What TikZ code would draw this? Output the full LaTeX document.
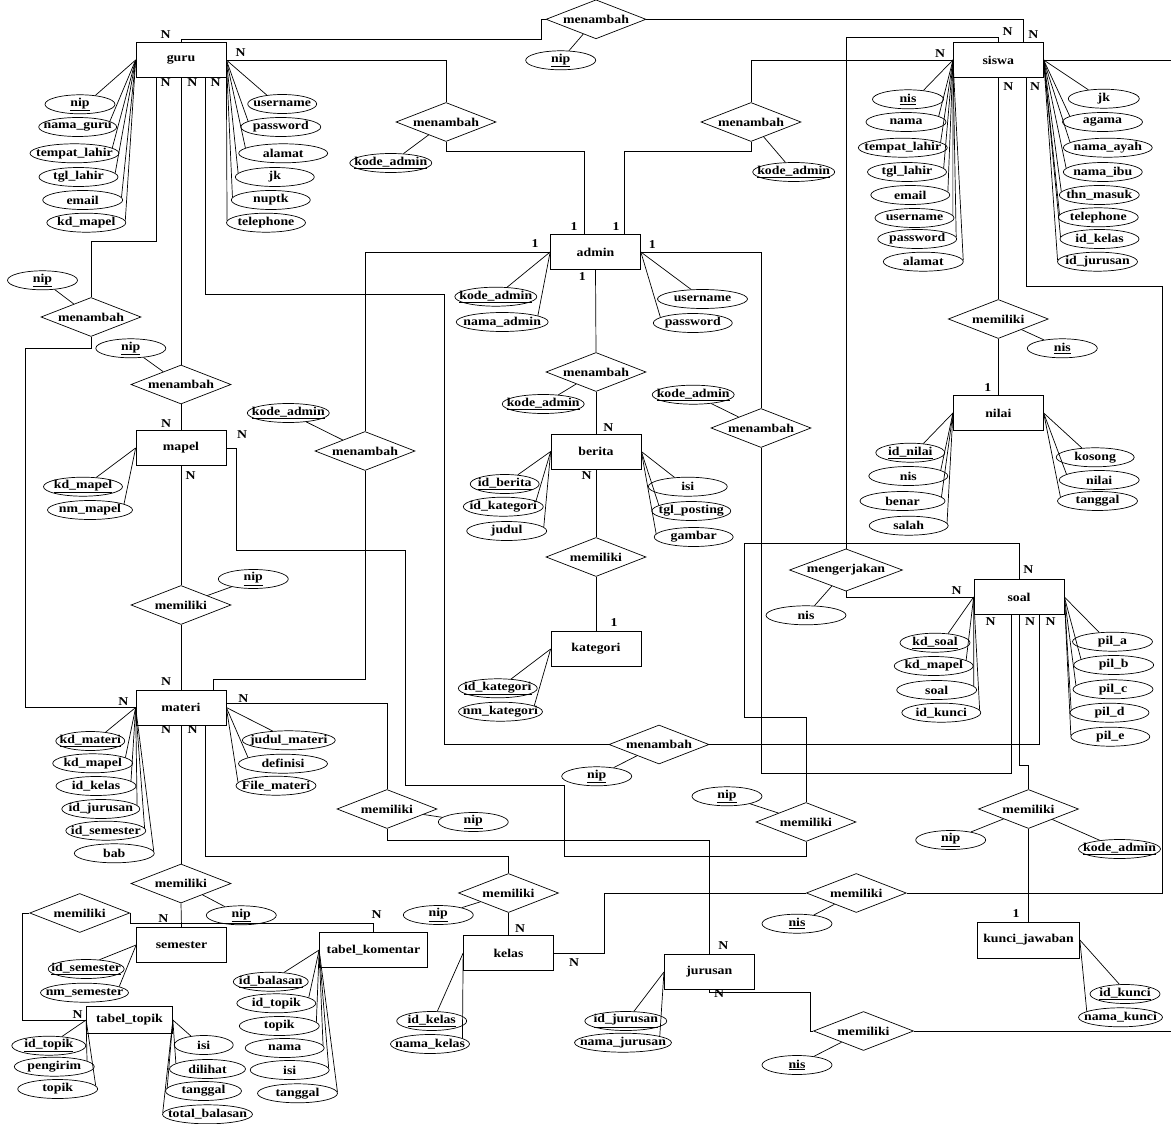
\documentclass[tikz,border=0pt]{standalone}
\usepackage{fontspec}
\setmainfont{Liberation Serif}[FakeStretch=1.15]
\usetikzlibrary{shapes.geometric}
\newcommand\zb[1]{\makebox[0pt]{#1}}
\newcommand\ky[1]{\makebox[0pt]{\underline{#1}}}
\begin{document}
\begin{tikzpicture}[x=1pt,y=-1pt,line width=0.7pt,
  every node/.style={font=\fontsize{12}{14}\selectfont\bfseries},
  ent/.style={draw,rectangle,minimum width=90pt,minimum height=35pt,inner sep=0pt},
  rel/.style={draw,diamond,aspect=2.5,minimum width=100pt,minimum height=39pt,inner sep=0pt},
  attr/.style={draw,ellipse,minimum width=#1,minimum height=19pt,inner sep=0pt},
  attr/.default=80pt,
  card/.style={inner sep=0pt}]
\useasboundingbox (0,0) rectangle (1171,1124);

% ---------- entities ----------
\node[ent] (guru) at (181,60) {guru};
\node[ent] (admin) at (595.5,252) {admin};
\node[ent] (siswa) at (998.3,60) {siswa};
\node[ent] (mapel) at (181,448) {mapel};
\node[ent] (materi) at (181,707.5) {materi};
\node[ent] (berita) at (596,451.5) {berita};
\node[ent] (kategori) at (596,649) {kategori};
\node[ent] (nilai) at (998.3,413) {nilai};
\node[ent] (soal) at (1019,597) {soal};
\node[ent] (semester) at (181.5,945) {semester};
\node[ent,minimum width=108pt] (komentar) at (373.5,950) {tabel\_komentar};
\node[ent] (kelas) at (508.5,953) {kelas};
\node[ent] (jurusan) at (709.3,972) {jurusan};
\node[ent,minimum width=86pt,minimum height=27pt] (topik) at (129.5,1020) {tabel\_topik};
\node[ent,minimum width=102pt,minimum height=36pt] (kunci) at (1028.5,940) {kunci\_jawaban};

% ---------- relationships ----------
\node[rel] (r1) at (596,19.3) {menambah};
\node[rel] (r2) at (446,122) {menambah};
\node[rel] (r3) at (751,122) {menambah};
\node[rel] (r4) at (181,384.5) {menambah};
\node[rel] (r5) at (91,317) {menambah};
\node[rel] (r6) at (365,451) {menambah};
\node[rel] (r7) at (596,372) {menambah};
\node[rel] (r8) at (761,428) {menambah};
\node[rel] (r9) at (596,557) {memiliki};
\node[rel] (r10) at (181,605) {memiliki};
\node[rel] (r11) at (998.3,319) {memiliki};
\node[rel,minimum width=113pt] (r12) at (846,570) {mengerjakan};
\node[rel] (r13) at (659,744.5) {menambah};
\node[rel] (r14) at (387,809) {memiliki};
\node[rel] (r15) at (806,822) {memiliki};
\node[rel] (r16) at (1028.5,809) {memiliki};
\node[rel] (r17) at (181,883.5) {memiliki};
\node[rel] (r18) at (79.7,913) {memiliki};
\node[rel] (r19) at (508.5,893) {memiliki};
\node[rel] (r20) at (856.3,893) {memiliki};
\node[rel] (r21) at (863.5,1031) {memiliki};

% ---------- entity attributes (name/x/y/width/anchor angle/text/entity anchor) ----------
\foreach \n/\x/\y/\w/\a/\t/\e in {
  g1/80/104.3/70/30/\ky{nip}/guru.west, g2/77.7/127/78/10/\zb{nama\_guru}/guru.west,
  g3/74.5/153.3/89/8/\zb{tempat\_lahir}/guru.west, g4/78.5/177/79/6/\zb{tgl\_lahir}/guru.west,
  g5/82.7/200/80/4/\zb{email}/guru.west, g6/86.3/222.7/79/3/\zb{kd\_mapel}/guru.west,
  g7/282.2/104/69/150/\zb{username}/guru.east, g8/280.8/127/80/170/\zb{password}/guru.east,
  g9/283.2/153.3/89/172/\zb{alamat}/guru.east, g10/274.8/177/79/174/\zb{jk}/guru.east,
  g11/270.8/200/79/176/\zb{nuptk}/guru.east, g12/266/222.7/79/177/\zb{telephone}/guru.east,
  a1/495.8/296.7/82/40/\ky{kode\_admin}/admin.west, a2/502.2/322/92/10/\zb{nama\_admin}/admin.west,
  a3/702.5/299/90/140/\zb{username}/admin.east, a4/692.8/323/79/170/\zb{password}/admin.east,
  s1/908/99.3/71/30/\ky{nis}/siswa.west, s2/906/122/80/10/\zb{nama}/siswa.west,
  s3/902.8/147.7/89/8/\zb{tempat\_lahir}/siswa.west, s4/907/172/79/6/\zb{tgl\_lahir}/siswa.west,
  s5/910.3/195/79/5/\zb{email}/siswa.west, s6/914.5/218/79/4/\zb{username}/siswa.west,
  s7/917.2/239/79/3/\zb{password}/siswa.west, s8/923.3/261.7/80/2/\zb{alamat}/siswa.west,
  s9/1103.8/98.7/71/150/\zb{jk}/siswa.east, s10/1102.5/122/80/170/\zb{agama}/siswa.east,
  s11/1107.8/147.7/89/172/\zb{nama\_ayah}/siswa.east, s12/1102.8/172/79/174/\zb{nama\_ibu}/siswa.east,
  s13/1099.3/195/80/175/\zb{thn\_masuk}/siswa.east, s14/1098.3/217.3/80/176/\zb{telephone}/siswa.east,
  s15/1099.5/239/79/177/\zb{id\_kelas}/siswa.east, s16/1097.5/261.7/80/178/\zb{id\_jurusan}/siswa.east,
  m1/83/486.7/79/35/\ky{kd\_mapel}/mapel.west, m2/90/510/85/10/\zb{nm\_mapel}/mapel.west,
  t1/90.3/741/69/30/\ky{kd\_materi}/materi.west, t2/92.7/763.3/80/10/\zb{kd\_mapel}/materi.west,
  t3/96/786/80/8/\zb{id\_kelas}/materi.west, t4/100.8/809/78/6/\zb{id\_jurusan}/materi.west,
  t5/105.8/830.7/80/4/\zb{id\_semester}/materi.west, t6/114.3/853.3/80/3/\zb{bab}/materi.west,
  t7/288.8/740.3/93/150/\zb{judul\_materi}/materi.east, t8/283/763.7/89/170/\zb{definisi}/materi.east,
  t9/276/785.7/80/175/\zb{File\_materi}/materi.east,
  b1/504.7/484/69/35/\ky{id\_berita}/berita.west, b2/503.3/506.7/80/10/\zb{id\_kategori}/berita.west,
  b3/506.7/531/80/6/\zb{judul}/berita.west,
  b4/687.8/486.7/79/145/\zb{isi}/berita.east, b5/691.3/511/79/170/\zb{tgl\_posting}/berita.east,
  b6/693.7/537/79/175/\zb{gambar}/berita.east,
  k1/497.8/688.3/79/35/\ky{id\_kategori}/kategori.west, k2/500.5/711.7/84/10/\zb{nm\_kategori}/kategori.west,
  n1/910.3/452.7/69/35/\ky{id\_nilai}/nilai.west, n2/908.3/476/79/10/\zb{nis}/nilai.west,
  n3/902.5/501/85/6/\zb{benar}/nilai.west, n4/908.7/525.7/79/4/\zb{salah}/nilai.west,
  n5/1095.2/457.3/78/145/\zb{kosong}/nilai.east, n6/1099.2/480/80/170/\zb{nilai}/nilai.east,
  n7/1097.5/501/80/174/\zb{tanggal}/nilai.east,
  q1/935/642.7/70/35/\ky{kd\_soal}/soal.west, q2/933.7/666/79/10/\zb{kd\_mapel}/soal.west,
  q3/936.7/690/80/6/\zb{soal}/soal.west, q4/941.3/712.7/79/4/\zb{id\_kunci}/soal.west,
  q5/1112.5/641.7/80/145/\zb{pil\_a}/soal.east, q6/1113.7/665/80/170/\zb{pil\_b}/soal.east,
  q7/1113/689.3/80/174/\zb{pil\_c}/soal.east, q8/1109.5/712.7/79/176/\zb{pil\_d}/soal.east,
  q9/1110.3/736.7/79/178/\zb{pil\_e}/soal.east,
  e1/86.2/969/76/35/\ky{id\_semester}/semester.west, e2/84.5/992.7/88/10/\zb{nm\_semester}/semester.west,
  p1/48.8/1045.7/74/35/\ky{id\_topik}/topik.west, p2/54.3/1066.7/80/10/\zb{pengirim}/topik.west,
  p3/57.7/1089/80/5/\zb{topik}/topik.west,
  p4/203.7/1045/59/145/\zb{isi}/topik.east, p5/207.5/1069/76/170/\zb{dilihat}/topik.east,
  p6/203.5/1091/76/175/\zb{tanggal}/topik.east, p7/207.5/1114.3/90/178/\zb{total\_balasan}/topik.east,
  o1/270.8/981.7/75/35/\ky{id\_balasan}/komentar.west, o2/276.3/1003.3/79/10/\zb{id\_topik}/komentar.west,
  o3/279.3/1026/80/6/\zb{topik}/komentar.west, o4/284.7/1048/79/4/\zb{nama}/komentar.west,
  o5/289.7/1070/79/3/\zb{isi}/komentar.west, o6/297.5/1093.3/80/2/\zb{tanggal}/komentar.west,
  l1/431.7/1021/70/60/\ky{id\_kelas}/kelas.west, l2/430/1044/79/10/\zb{nama\_kelas}/kelas.west,
  j1/625.8/1021/82/50/\ky{id\_jurusan}/jurusan.west, j2/623/1042.7/97/10/\zb{nama\_jurusan}/jurusan.west,
  u1/1125/994/70/120/\ky{id\_kunci}/kunci.east, u2/1120.5/1017.3/84/170/\zb{nama\_kunci}/kunci.east}
  {\node[attr=\w pt] (\n) at (\x,\y) {\t}; \draw (\e) -- (\n.\a);}

% ---------- relationship attributes ----------
\foreach \n/\x/\y/\w/\t/\r in {
  ra1/560.7/60.3/70/\ky{nip}/r1, ra2/390.8/163/82/\ky{kode\_admin}/r2,
  ra3/793.7/172/82/\ky{kode\_admin}/r3, ra4/130.8/348.3/70/\ky{nip}/r4,
  ra5/42.5/280.3/70/\ky{nip}/r5, ra6/288.3/413/82/\ky{kode\_admin}/r6,
  ra7/543.2/404/82/\ky{kode\_admin}/r7, ra8/693.2/394.7/82/\ky{kode\_admin}/r8,
  ra10/253.3/579/70/\ky{nip}/r10, ra11/1062.3/348.3/70/\ky{nis}/r11,
  ra12/806/615.3/80/\zb{nis}/r12, ra13/596.7/776.3/70/\ky{nip}/r13,
  ra14/473.3/822/70/\ky{nip}/r14, ra15/727/796.3/70/\ky{nip}/r15,
  ra16/950.7/840/70/\ky{nip}/r16, rb16/1119.5/849/82/\ky{kode\_admin}/r16,
  ra17/241.3/915.3/70/\ky{nip}/r17, ra19/438.3/915/70/\ky{nip}/r19,
  ra20/797/923.7/70/\ky{nis}/r20, ra21/797/1065/70/\ky{nis}/r21}
  {\node[attr=\w pt] (\n) at (\x,\y) {\t}; \draw (\n) -- (\r);}

% ---------- connectors ----------
\draw (guru.north) |- (541,39) |- (r1.west);
\draw (r1.east) -| ([xshift=25pt]siswa.north);
\draw (guru.east) -| (r2.north);
\draw (r2.south) |- (584.3,151.7) -- ([xshift=-11.2pt]admin.north);
\draw (siswa.west) -| (r3.north);
\draw (r3.south) |- (624.3,151.7) -- ([xshift=28.8pt]admin.north);
\draw (siswa.north) |- (846,37.7) -- (r12.north);
\draw (siswa.south) -- (r11.north);
\draw (r11.south) -- (nilai.north);
\draw ([xshift=27.7pt]siswa.south) |- (1162.7,286) |- (r20.east);
\draw (siswa.east) -- (1171,60);
\draw (r21.east) -- (1171,1031);
\draw (r20.west) -| (604.3,953) -- (kelas.east);
\draw (jurusan.south) |- (810,992.3) |- (r21.west);
\draw ([xshift=-25pt]guru.south) |- (91,241.7) -- (r5.north);
\draw (guru.south) -- (r4.north);
\draw (r4.south) -- (mapel.north);
\draw ([xshift=24.7pt]guru.south) |- (444.3,294) |- (r13.west);
\draw (r13.east) -| ([xshift=20.3pt]soal.south);
\draw (r5.south) |- (25.7,348.3) |- (materi.west);
\draw (mapel.east) -| (236,550) -| (405,785) -| (564.3,856.7) -| (r15.south);
\draw (mapel.south) -- (r10.north);
\draw (r10.south) -- (materi.north);
\draw (admin.west) -| (r6.north);
\draw (r6.south) |- (213.3,679) -- ([xshift=32.3pt]materi.north);
\draw (admin.south) -- (r7.north);
\draw (r7.south) -- (berita.north);
\draw (admin.east) -| (r8.north);
\draw (r8.south) |- (1011,773.3) -- ([xshift=-8pt]soal.south);
\draw (berita.south) -- (r9.north);
\draw (r9.south) -- (kategori.north);
\draw (soal.north) |- (744,543.3) |- (806,717.7) -- (r15.north);
\draw (r12.south) |- (soal.west);
\draw (soal.south) |- (1028.5,765.7) -- (r16.north);
\draw (r16.south) -- (kunci.north);
\draw ([yshift=4pt]materi.east) -| (r14.north);
\draw (r14.south) |- (709.3,840) -- (jurusan.north);
\draw (materi.south) -- (r17.north);
\draw (r17.south) -- (semester.north);
\draw ([xshift=24.7pt]materi.south) |- (508.5,856.7) -- (r19.north);
\draw (r19.south) -- (kelas.north);
\draw (r18.east) |- (373.5,923.3) -- (komentar.north);
\draw (r18.west) -| (22.3,1020) -- (topik.west);

% ---------- cardinalities ----------
\foreach \x/\y/\t [count=\i] in {
  165.7/35/N, 240.7/52.3/N, 165.7/82.3/N, 192.3/82.3/N, 215.7/82.3/N,
  1007.7/31.7/N, 1033.3/35/N, 940/53.3/N, 1008.3/86.7/N, 1035/86.7/N,
  574/227/1, 616/227/1, 535/244/1, 652.3/245/1, 582.3/276.7/1,
  166/423.3/N, 242/435/N, 190.7/475.7/N,
  166/681.7/N, 123.3/701.7/N, 243.3/698.3/N, 166/730/N, 192.7/730/N,
  608.3/427.7/N, 586.7/475.7/N, 614/622.7/1, 987.7/387.7/1,
  1028.3/569.3/N, 956.7/590.7/N, 990.7/621.7/N, 1030/621.7/N, 1050.7/621.7/N,
  163.3/919/N, 376.7/914.3/N, 77.7/1015/N,
  520/928.3/N, 574/962.7/N, 723.3/945.7/N, 719/994/N, 1016/913.3/1}
  {\node[card] (card\i) at (\x,\y) {\t};}
\end{tikzpicture}
\end{document}
